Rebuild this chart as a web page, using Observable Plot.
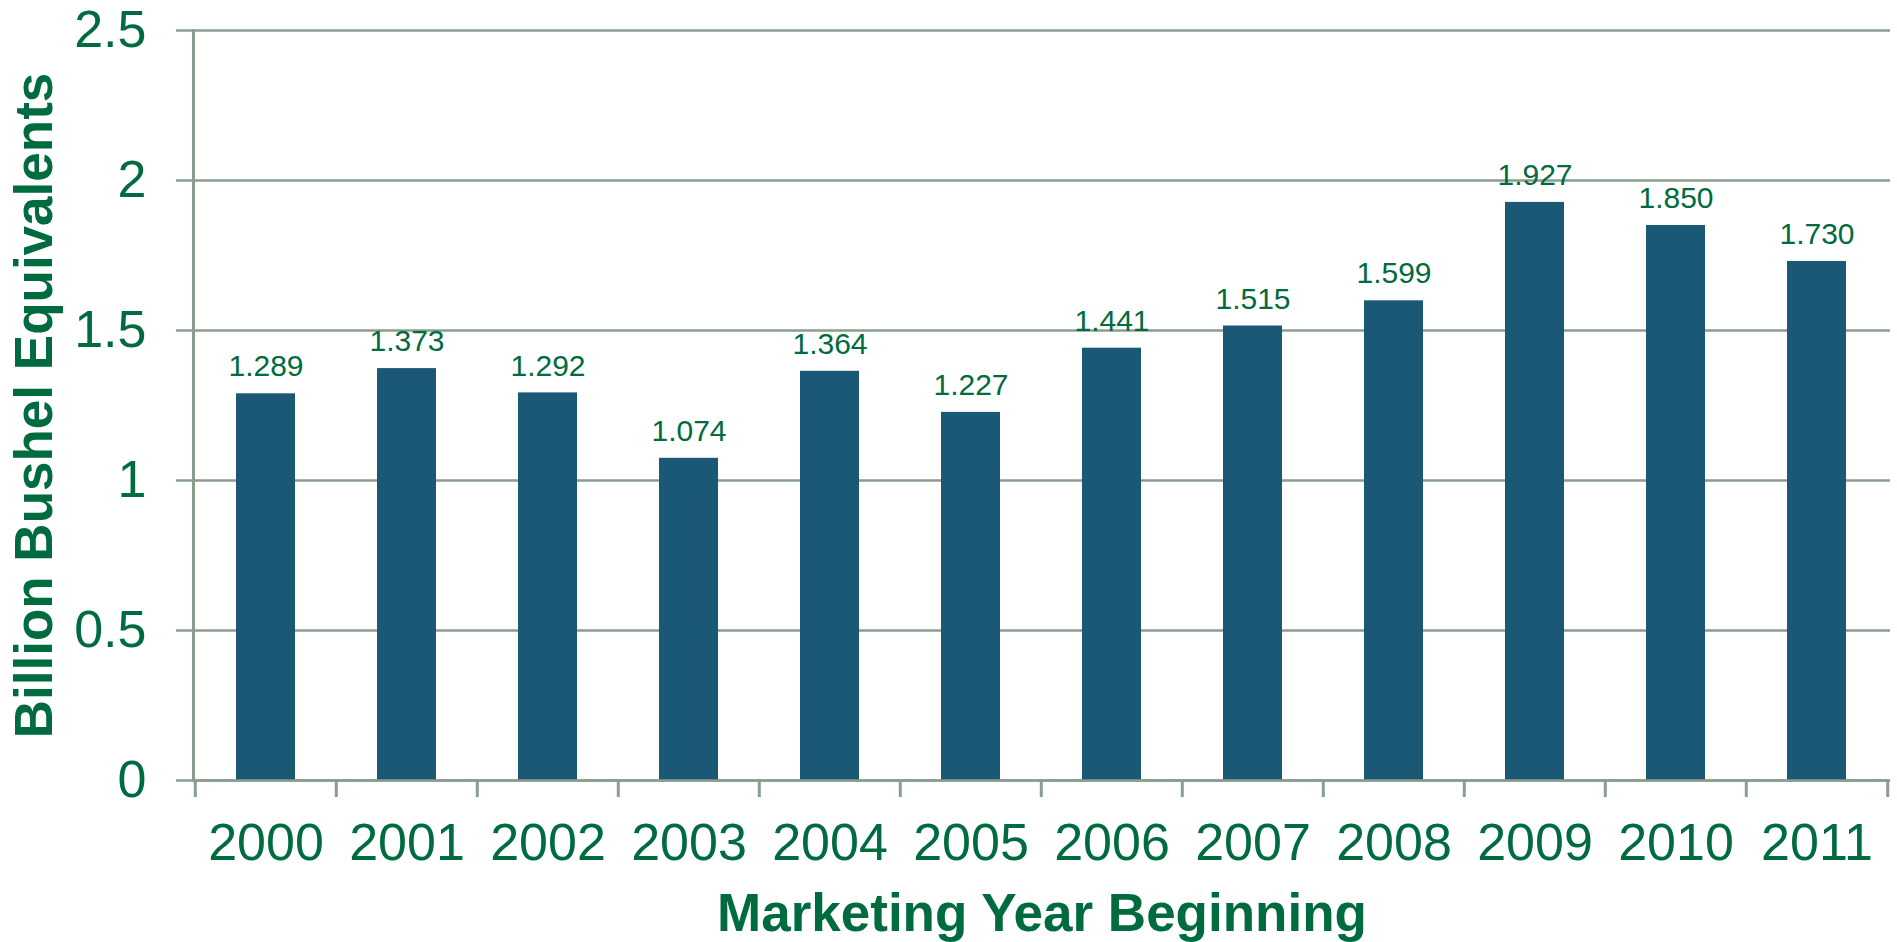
<!DOCTYPE html>
<html>
<head>
<meta charset="utf-8">
<script src="https://cdn.jsdelivr.net/npm/d3@7"></script>
<script src="https://cdn.jsdelivr.net/npm/@observablehq/plot@0.6"></script>
<style>
  html, body { margin: 0; padding: 0; background: #ffffff; }
  #chart svg { display: block; }
</style>
</head>
<body>
<div id="chart"></div>
<script>
// ---- data ----
const years = ["2000","2001","2002","2003","2004","2005","2006","2007","2008","2009","2010","2011"];
const values = [1.289, 1.373, 1.292, 1.074, 1.364, 1.227, 1.441, 1.515, 1.599, 1.927, 1.850, 1.730];
const yTicks = [0, 0.5, 1, 1.5, 2, 2.5];
const yTickLabels = ["0", "0.5", "1", "1.5", "2", "2.5"];
const yTitle = "Billion Bushel Equivalents";
const xTitle = "Marketing Year Beginning";

// ---- style / layout ----
const W = 1897, H = 942;
const mL = 193, mR = 7, mT = 30, mB = 162;
const step = (W - mL - mR) / years.length;
const green = "#006b3f";
const barColor = "#1b5876";
const gridColor = "#8a9e8d";
const font = "'Liberation Sans', Arial, Helvetica, sans-serif";

const data = years.map((y, i) => ({year: y, value: values[i]}));
const labelMap = new Map(yTicks.map((t, i) => [t, yTickLabels[i]]));

const chart = Plot.plot({
  width: W,
  height: H,
  marginLeft: mL,
  marginRight: mR,
  marginTop: mT,
  marginBottom: mB,
  style: {fontFamily: font, background: "#ffffff", color: green},
  x: {domain: years, paddingInner: 0.58, paddingOuter: 0.29, axis: null},
  y: {domain: [0, 2.5], axis: null},
  marks: [
    Plot.gridY(yTicks, {stroke: gridColor, strokeOpacity: 1, strokeWidth: 2.5}),
    Plot.barY(data, {x: "year", y: "value", fill: barColor}),
    Plot.ruleY([0], {stroke: gridColor, strokeWidth: 2.5}),
    Plot.frame({anchor: "left", stroke: gridColor, strokeWidth: 3}),
    Plot.axisY({
      ticks: yTicks,
      tickSize: 17,
      tickPadding: 30,
      tickFormat: d => labelMap.get(d),
      stroke: gridColor,
      strokeWidth: 2.5,
      strokeOpacity: 1,
      fill: green,
      fontSize: 52,
      label: null
    }),
    // boundary tick marks between categories
    Plot.axisX({
      ticks: years,
      tickSize: 17,
      tickFormat: () => "",
      dx: -step / 2,
      stroke: gridColor,
      strokeWidth: 3,
      strokeOpacity: 1,
      label: null
    }),
    Plot.axisX({
      ticks: [years[years.length - 1]],
      tickSize: 17,
      tickFormat: () => "",
      dx: step / 2,
      stroke: gridColor,
      strokeWidth: 3,
      strokeOpacity: 1,
      label: null
    }),
    // category labels
    Plot.axisX({
      ticks: years,
      tickSize: 0,
      tickPadding: 43,
      fill: green,
      fontSize: 52,
      label: null
    }),
    // value labels
    Plot.text(data, {
      x: "year",
      y: "value",
      text: d => d.value.toFixed(3),
      fill: green,
      fontSize: 30,
      lineAnchor: "middle",
      dy: -27
    }),
    // axis titles
    Plot.text([yTitle], {
      text: d => d,
      frameAnchor: "left",
      dx: -158,
      rotate: -90,
      fill: green,
      fontSize: 53,
      fontWeight: "bold",
      textAnchor: "middle",
      lineAnchor: "middle"
    }),
    Plot.text([xTitle], {
      text: d => d,
      frameAnchor: "bottom",
      dy: 134,
      fill: green,
      fontSize: 53,
      fontWeight: "bold",
      textAnchor: "middle",
      lineAnchor: "middle"
    })
  ]
});

document.getElementById("chart").appendChild(chart);
</script>
</body>
</html>
